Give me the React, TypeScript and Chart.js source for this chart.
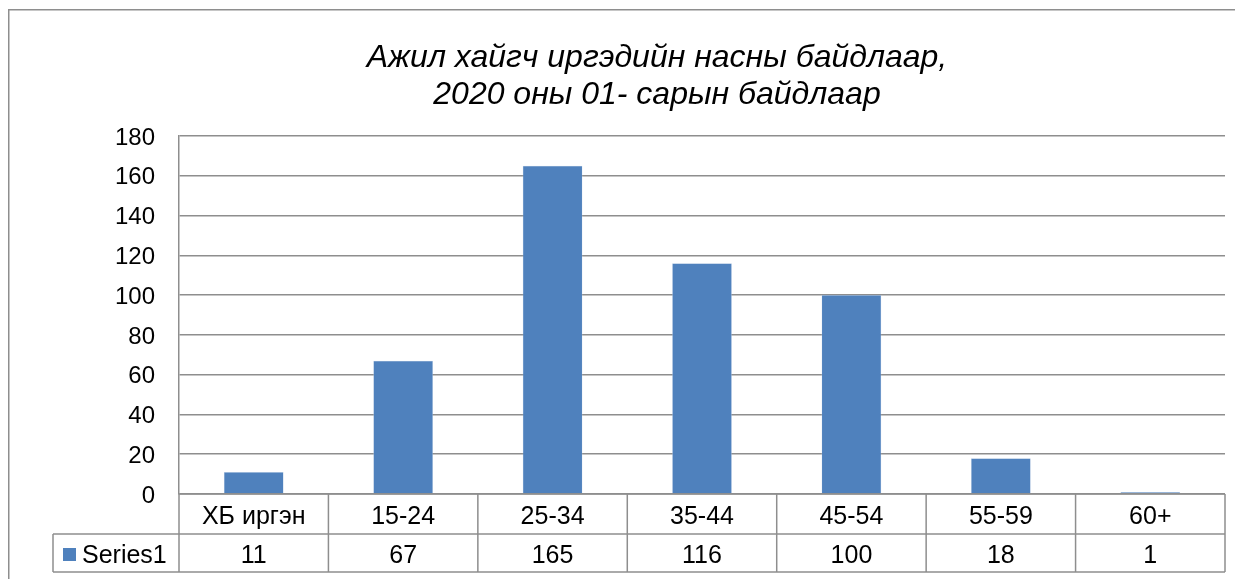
import React, { useEffect, useRef } from 'react';
import { Chart, registerables } from 'chart.js';

Chart.register(...registerables);

const categories = ['ХБ иргэн', '15-24', '25-34', '35-44', '45-54', '55-59', '60+'];
const series1 = [11, 67, 165, 116, 100, 18, 1];
const seriesName = 'Series1';
const titleLines = ['Ажил хайгч иргэдийн насны байдлаар,', '2020 оны 01- сарын байдлаар'];
const yMin = 0;
const yMax = 180;
const yStep = 20;

const FONT = '"Liberation Sans", Arial, sans-serif';
const BAR_COLOR = '#4F81BD';
const LINE_COLOR = '#8e8e8e';

const framePlugin = {
  id: 'frameTitleTable',
  beforeDraw(chart: any) {
    const ctx = chart.ctx;
    ctx.save();
    ctx.fillStyle = '#ffffff';
    ctx.fillRect(0, 0, chart.width, chart.height);
    ctx.strokeStyle = LINE_COLOR;
    ctx.lineWidth = 1.5;
    ctx.beginPath();
    ctx.moveTo(0.75, chart.height);
    ctx.lineTo(0.75, 1.75);
    ctx.lineTo(chart.width, 1.75);
    ctx.stroke();
    // title
    ctx.fillStyle = '#000';
    ctx.font = `italic 32px ${FONT}`;
    ctx.textAlign = 'center';
    ctx.textBaseline = 'middle';
    ctx.fillText(titleLines[0], 649, 50);
    ctx.fillText(titleLines[1], 649, 87);
    ctx.restore();
  },
  afterDraw(chart: any) {
    const ctx = chart.ctx;
    const x = chart.scales.x;
    const area = chart.chartArea;
    const n = categories.length;
    const colW = (area.right - area.left) / n;
    const r0 = area.bottom;
    const r1 = r0 + 40;
    const r2 = r1 + 38;
    const legendLeft = 45;
    ctx.save();
    ctx.strokeStyle = LINE_COLOR;
    ctx.lineWidth = 1.5;
    ctx.beginPath();
    ctx.moveTo(area.left, r0);
    ctx.lineTo(area.right, r0);
    ctx.moveTo(legendLeft, r1);
    ctx.lineTo(area.right, r1);
    ctx.moveTo(legendLeft, r2);
    ctx.lineTo(area.right, r2);
    ctx.moveTo(legendLeft, r1);
    ctx.lineTo(legendLeft, r2);
    for (let i = 0; i <= n; i++) {
      const bx = i < n ? x.getPixelForValue(i) - colW / 2 : x.getPixelForValue(n - 1) + colW / 2;
      ctx.moveTo(bx, r0);
      ctx.lineTo(bx, r2);
    }
    ctx.stroke();

    ctx.fillStyle = '#000';
    ctx.font = `25px ${FONT}`;
    ctx.textAlign = 'center';
    ctx.textBaseline = 'middle';
    for (let i = 0; i < n; i++) {
      const cx = x.getPixelForValue(i);
      ctx.fillText(categories[i], cx, (r0 + r1) / 2 + 3);
      ctx.fillText(String(series1[i]), cx, (r1 + r2) / 2 + 3);
    }
    // legend key
    ctx.fillStyle = BAR_COLOR;
    ctx.fillRect(55, (r1 + r2) / 2 - 5, 13, 13);
    ctx.fillStyle = '#000';
    ctx.textAlign = 'left';
    ctx.fillText(seriesName, 74, (r1 + r2) / 2 + 3);
    ctx.restore();
  },
};

export default function App() {
  const ref = useRef<HTMLCanvasElement | null>(null);
  useEffect(() => {
    if (!ref.current) return;
    const chart = new Chart(ref.current, {
      type: 'bar',
      data: {
        labels: categories,
        datasets: [
          {
            label: seriesName,
            data: series1,
            backgroundColor: BAR_COLOR,
            borderColor: '#c9d7ea',
            borderWidth: 0.5,
            barPercentage: 0.4,
            categoryPercentage: 1.0,
          },
        ],
      },
      options: {
        animation: false,
        responsive: false,
        maintainAspectRatio: false,
        layout: { padding: { left: 0, right: 18, top: 128, bottom: 85 } },
        plugins: {
          legend: { display: false },
          title: { display: false },
          tooltip: { enabled: false },
        },
        scales: {
          x: { display: false },
          y: {
            min: yMin,
            max: yMax,
            ticks: {
              stepSize: yStep,
              padding: 24,
              labelOffset: 2,
              color: '#000',
              font: { family: FONT, size: 24 },
            },
            grid: { color: LINE_COLOR, lineWidth: 1.5, drawTicks: false },
            border: { display: true, color: LINE_COLOR, width: 1.5 },
            afterFit: (scale: any) => {
              scale.width = 171;
            },
          },
        },
      },
      plugins: [framePlugin],
    });
    return () => chart.destroy();
  }, []);
  return (
    <div style={{ width: 1235, height: 571, overflow: 'hidden' }}>
      <canvas ref={ref} width={1235} height={571} style={{ display: 'block' }} />
    </div>
  );
}
